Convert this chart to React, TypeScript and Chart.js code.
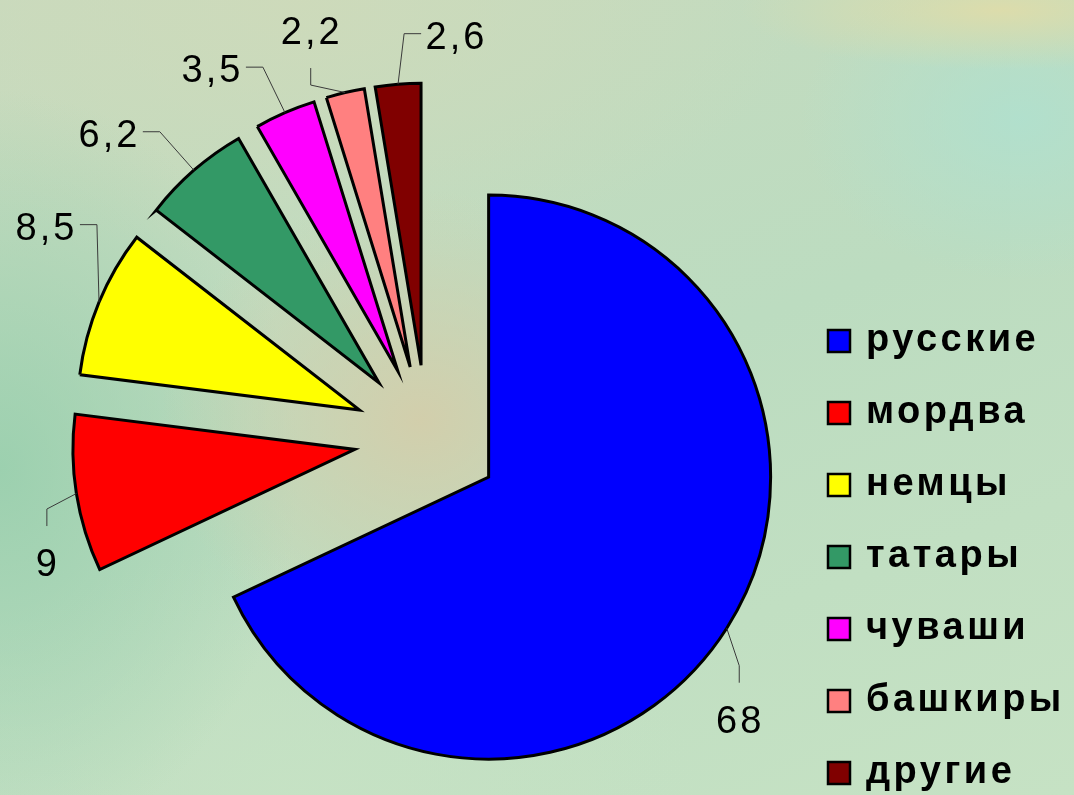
import React, { useEffect, useRef } from 'react';
import { Chart, registerables } from 'chart.js';

Chart.register(...registerables);

// ---- data ----
const categories = ['русские', 'мордва', 'немцы', 'татары', 'чуваши', 'башкиры', 'другие'];
const shares = [68, 9, 8.5, 6.2, 3.5, 2.2, 2.6];
const valueLabels = shares.map((v) => String(v).replace('.', ','));

// ---- styles ----
const sliceColors = ['#0000ff', '#ff0000', '#ffff00', '#339966', '#ff00ff', '#ff8080', '#800000'];
const EXPLODE = 73;
const PIE_RADIUS = 282;
// label centre offsets from each slice's outer mid-point, and side where leader attaches
const labelOffsets: number[][] = [[12, 91], [-30, 69], [-54, -76], [-86, -37], [-74, -44], [-35, -62], [57, -49]];
const leaderSides = ['top', 'top', 'right', 'right', 'right', 'bottom', 'left'];

const explodePlugin = {
  id: 'explodeSlices',
  afterUpdate(chart: any) {
    const meta = chart.getDatasetMeta(0);
    meta.data.forEach((arc: any) => {
      const mid = (arc.startAngle + arc.endAngle) / 2;
      arc.x += Math.cos(mid) * EXPLODE;
      arc.y += Math.sin(mid) * EXPLODE;
    });
  },
};

const labelPlugin = {
  id: 'sliceLabels',
  afterDatasetsDraw(chart: any) {
    const ctx = chart.ctx;
    const meta = chart.getDatasetMeta(0);
    ctx.save();
    ctx.font = '38px "Liberation Sans", Arial, sans-serif';
    (ctx as any).letterSpacing = '3px';
    ctx.fillStyle = '#000';
    ctx.strokeStyle = '#3a3a3a';
    ctx.lineWidth = 1;
    ctx.textBaseline = 'alphabetic';
    meta.data.forEach((arc: any, i: number) => {
      const mid = (arc.startAngle + arc.endAngle) / 2;
      const ax = arc.x + Math.cos(mid) * arc.outerRadius;
      const ay = arc.y + Math.sin(mid) * arc.outerRadius;
      const cx = ax + labelOffsets[i][0];
      const cy = ay + labelOffsets[i][1];
      const text = valueLabels[i];
      const w = ctx.measureText(text).width - 3;
      let ex = cx, ey = cy, bx = cx, by = cy;
      const side = leaderSides[i];
      if (side === 'top') { ex = cx; ey = cy - 37; bx = cx; by = ey - 17; }
      else if (side === 'bottom') { ex = cx; ey = cy + 37; bx = cx; by = ey + 17; }
      else if (side === 'right') { ex = cx + w / 2 + 5; ey = cy - 2; bx = ex + 17; by = ey; }
      else { ex = cx - w / 2 - 5; ey = cy - 2; bx = ex - 17; by = ey; }
      ctx.beginPath();
      ctx.moveTo(ex + 0.5, ey + 0.5);
      ctx.lineTo(bx + 0.5, by + 0.5);
      ctx.lineTo(ax, ay);
      ctx.stroke();
      ctx.fillText(text, cx - w / 2, cy + 13.6);
    });
    ctx.restore();
  },
};

const legendPlugin = {
  id: 'sideLegend',
  afterDraw(chart: any) {
    const ctx = chart.ctx;
    const labels = chart.data.labels as string[];
    const colors = chart.data.datasets[0].backgroundColor as string[];
    ctx.save();
    ctx.font = 'bold 38px "Liberation Sans", Arial, sans-serif';
    (ctx as any).letterSpacing = '3.5px';
    ctx.textBaseline = 'alphabetic';
    labels.forEach((lab, i) => {
      const cy = 341 + 72 * i;
      ctx.fillStyle = colors[i];
      ctx.fillRect(828, cy - 11, 22, 22);
      ctx.strokeStyle = '#000';
      ctx.lineWidth = 2.5;
      ctx.strokeRect(828, cy - 11, 22, 22);
      ctx.fillStyle = '#000';
      ctx.fillText(lab, 866, cy + 10);
    });
    ctx.restore();
  },
};

export default function App() {
  const canvasRef = useRef<HTMLCanvasElement | null>(null);

  useEffect(() => {
    if (!canvasRef.current) return;
    const chart = new Chart(canvasRef.current, {
      type: 'pie',
      data: {
        labels: categories,
        datasets: [
          {
            data: shares,
            backgroundColor: sliceColors,
            borderColor: '#000000',
            borderWidth: 3,
            borderJoinStyle: 'miter',
          } as any,
        ],
      },
      options: {
        responsive: false,
        animation: false,
        radius: PIE_RADIUS,
        layout: { padding: { left: 0, right: 220, top: 81, bottom: 0 } },
        plugins: {
          legend: { display: false },
          tooltip: { enabled: false },
        },
        events: [],
      } as any,
      plugins: [explodePlugin, labelPlugin, legendPlugin],
    });
    return () => chart.destroy();
  }, []);

  const bg = [
    'radial-gradient(ellipse 260px 230px at 420px 420px, rgba(214,204,168,0.85), rgba(214,204,168,0))',
    'radial-gradient(ellipse 260px 60px at 1000px 10px, rgba(222,220,170,0.95), rgba(222,220,170,0))',
    'radial-gradient(ellipse 220px 160px at 1020px 120px, rgba(176,224,206,0.9), rgba(176,224,206,0))',
    'radial-gradient(ellipse 300px 380px at 0px 470px, rgba(150,206,172,0.85), rgba(150,206,172,0))',
    'radial-gradient(ellipse 500px 260px at 300px 0px, rgba(206,218,186,0.9), rgba(206,218,186,0))',
    'radial-gradient(ellipse 400px 250px at 300px 795px, rgba(198,226,196,0.9), rgba(198,226,196,0))',
    'linear-gradient(160deg, #c8dabe 0%, #bcdcc0 50%, #c6e2c4 100%)',
  ].join(',');

  return (
    <div
      style={{
        position: 'fixed',
        left: 0,
        top: 0,
        width: 1074,
        height: 795,
        overflow: 'hidden',
        background: bg,
      }}
    >
      <canvas ref={canvasRef} width={1074} height={795} style={{ display: 'block' }} />
    </div>
  );
}
